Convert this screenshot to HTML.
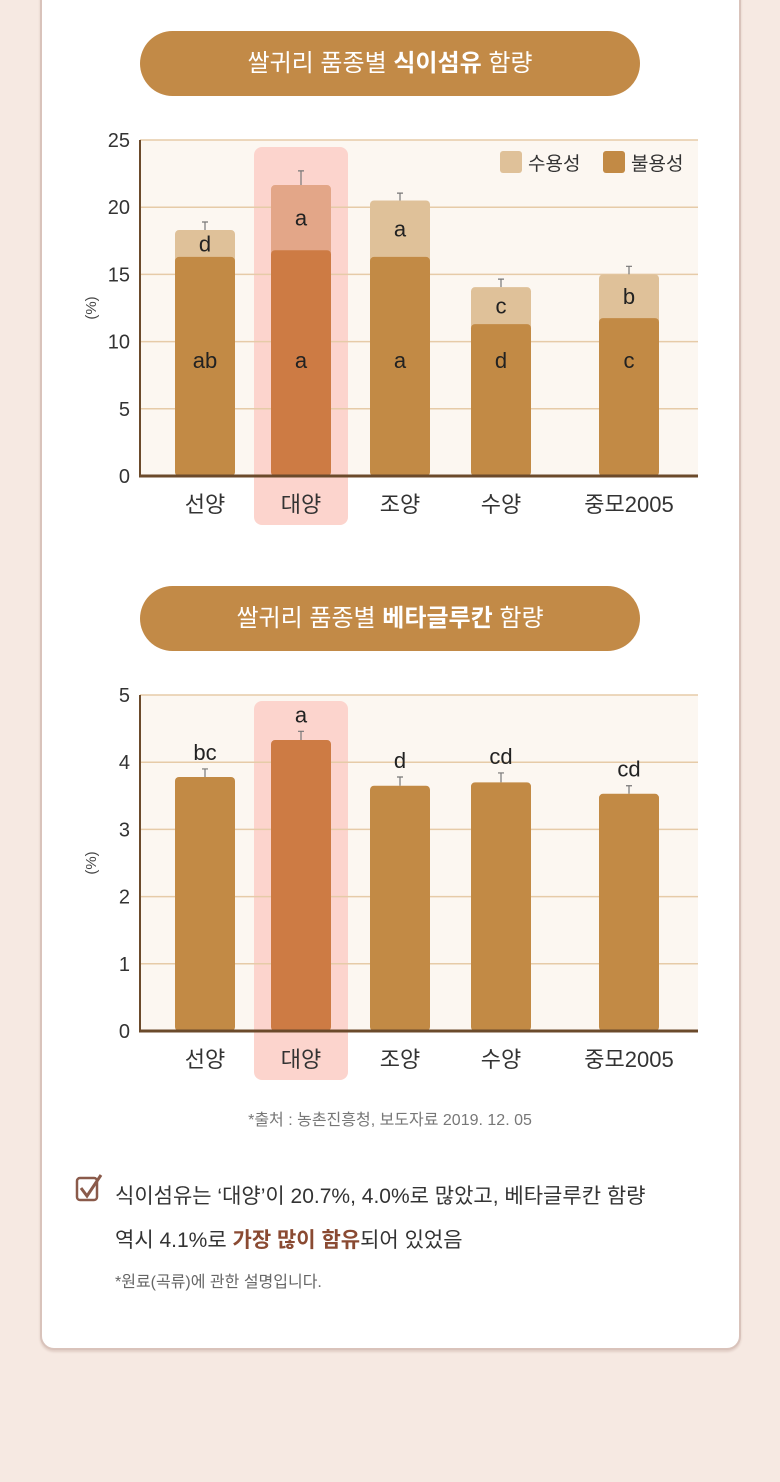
<!DOCTYPE html>
<html><head><meta charset="utf-8"><style>
body{margin:0;width:780px;height:1482px;background:#f6e9e2;font-family:"Liberation Sans","Noto Sans CJK KR",sans-serif;position:relative;overflow:hidden}
.card{position:absolute;left:40px;top:-20px;width:697px;height:1366px;background:#fff;border:2px solid #d9c3bb;border-radius:14px;box-shadow:0 2px 2px #e0cdc5}
.pill{position:absolute;left:140px;width:500px;height:65px;border-radius:33px;background:#c28a47;color:#fff;font-size:24px;text-align:center;line-height:65px}
.pill b{font-weight:bold}
svg text{font-family:"Liberation Sans","Noto Sans CJK KR",sans-serif}
.t{position:absolute;color:#333}
</style></head><body>
<div class="card"></div>
<div class="pill" style="top:31px">쌀귀리 품종별 <b>식이섬유</b> 함량</div>
<div class="pill" style="top:586px">쌀귀리 품종별 <b>베타글루칸</b> 함량</div>
<svg id="c1" width="780" height="1482" style="position:absolute;left:0;top:0"></svg>
<div class="t" style="left:0;width:780px;text-align:center;top:1106px;font-size:16px;color:#777">*출처 : 농촌진흥청, 보도자료 2019. 12. 05</div>
<svg style="position:absolute;left:75px;top:1172px" width="32" height="32"><rect x="2" y="6" width="20" height="22" rx="3" fill="none" stroke="#8a5a4a" stroke-width="2.5"/><path d="M6 16 L12 24 L26 3" fill="none" stroke="#8a5a4a" stroke-width="3"/></svg>
<div class="t" style="left:115px;top:1175px;font-size:21px;line-height:44px;color:#333">식이섬유는 ‘대양’이 20.7%, 4.0%로 많았고, 베타글루칸 함량<br>역시 4.1%로 <b style="color:#8a4a32">가장 많이 함유</b>되어 있었음</div>
<div class="t" style="left:115px;top:1268px;font-size:16px;color:#666">*원료(곡류)에 관한 설명입니다.</div>
<script>
const categories=["선양","대양","조양","수양","중모2005"];
const insoluble=[16.3,16.8,16.3,11.3,11.75];
const soluble=[2.0,4.85,4.2,2.75,3.25];
const fiberErr=[0.6,1.05,0.55,0.6,0.6];
const insolLetters=["ab","a","a","d","c"];
const solLetters=["d","a","a","c","b"];
const fiberTicks=[0,5,10,15,20,25];
const beta=[3.78,4.33,3.65,3.7,3.53];
const betaErr=[0.12,0.13,0.13,0.14,0.12];
const betaLetters=["bc","a","d","cd","cd"];
const betaTicks=[0,1,2,3,4,5];
const svg=document.getElementById('c1');const NS="http://www.w3.org/2000/svg";
function mk(t,a,txt){const e=document.createElementNS(NS,t);for(const k in a)e.setAttribute(k,a[k]);if(txt!==undefined)e.textContent=txt;svg.appendChild(e);return e;}
const cx=[205,301,400,501,629],bw=60;
function chart(y0,y1,max,ticks,hlTop,hlBot){
  const ys=v=>y0-(v/max)*(y0-y1);
  let e=mk('rect',{x:140,y:y1,width:558,height:y0-y1,fill:'#fcf7f1'});
  e=mk('rect',{x:254,y:hlTop,width:94,height:hlBot-hlTop,rx:8,fill:'#fcd4cd'});
  ticks.forEach(t=>{e=mk('line',{x1:140,x2:698,y1:ys(t),y2:ys(t),stroke:'#e6cba8','stroke-width':1.5});
   e=mk('text',{x:130,y:ys(t)+7,'text-anchor':'end','font-size':20,fill:'#333'},t);});
  e=mk('text',{x:0,y:0,'font-size':15,fill:'#444','text-anchor':'middle',transform:`translate(96,${(y0+y1)/2}) rotate(-90)`},'(%)');
  categories.forEach((c,i)=>{e=mk('text',{x:cx[i],y:y0+36,'text-anchor':'middle','font-size':22,fill:'#333'},c);});
  return ys;
}
function axes(y0,y1){let e=mk('line',{x1:140,x2:140,y1:y1,y2:y0,stroke:'#6b4a2b','stroke-width':2});
 e=mk('line',{x1:139,x2:698,y1:y0,y2:y0,stroke:'#6b4a2b','stroke-width':3});}
function errbar(x,yv,ye){let e=mk('path',{d:`M${x} ${yv}V${ye}M${x-3} ${ye}H${x+3}`,stroke:'#777','stroke-width':1.2,fill:'none'});}
// chart 1
let ys=chart(476,140,25,fiberTicks,147,525);
categories.forEach((c,i)=>{const hl=i===1;const tot=insoluble[i]+soluble[i];
 errbar(cx[i],ys(tot),ys(tot+fiberErr[i]));
 let e=mk('rect',{x:cx[i]-bw/2,y:ys(tot),width:bw,height:ys(0)-ys(tot),rx:4,fill:hl?'#e3a688':'#dfc199'});
 e=mk('rect',{x:cx[i]-bw/2,y:ys(insoluble[i]),width:bw,height:ys(0)-ys(insoluble[i]),rx:4,fill:hl?'#cd7b44':'#c28a45'});
 e=mk('text',{x:cx[i],y:(ys(tot)+ys(insoluble[i]))/2+8,'text-anchor':'middle','font-size':22,fill:'#222'},solLetters[i]);
 e=mk('text',{x:cx[i],y:368,'text-anchor':'middle','font-size':22,fill:'#222'},insolLetters[i]);
});
axes(476,140);
let e=mk('rect',{x:500,y:151,width:22,height:22,rx:3,fill:'#dfc199'});
e=mk('text',{x:528,y:170,'font-size':19,fill:'#333'},'수용성');
e=mk('rect',{x:603,y:151,width:22,height:22,rx:3,fill:'#c28a45'});
e=mk('text',{x:631,y:170,'font-size':19,fill:'#333'},'불용성');
// chart 2
ys=chart(1031,695,5,betaTicks,701,1080);
categories.forEach((c,i)=>{const hl=i===1;
 errbar(cx[i],ys(beta[i]),ys(beta[i]+betaErr[i]));
 let e=mk('rect',{x:cx[i]-bw/2,y:ys(beta[i]),width:bw,height:ys(0)-ys(beta[i]),rx:4,fill:hl?'#cd7b44':'#c28a45'});
 e=mk('text',{x:cx[i],y:ys(beta[i]+betaErr[i])-9,'text-anchor':'middle','font-size':22,fill:'#222'},betaLetters[i]);
});
axes(1031,695);
</script>
</body></html>
